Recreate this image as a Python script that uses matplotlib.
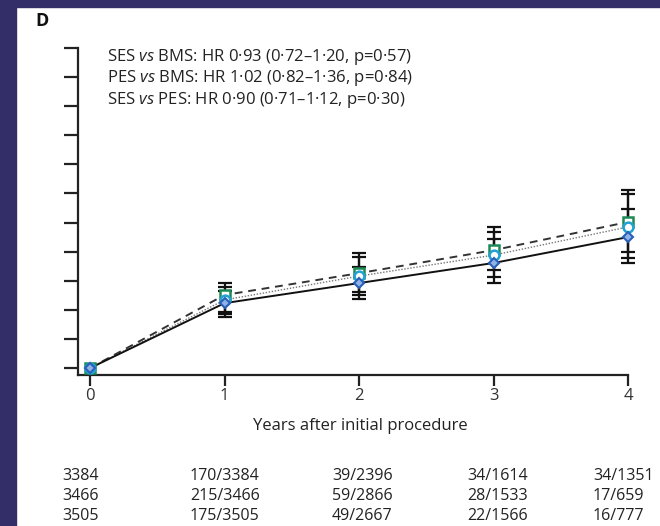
import numpy as np
import matplotlib
matplotlib.use('Agg')
from matplotlib import pyplot as plt
from matplotlib.patches import Rectangle

plt.rcParams['font.family'] = ['Open Sans', 'DejaVu Sans']
plt.rcParams['mathtext.fontset'] = 'custom'
plt.rcParams['mathtext.rm'] = 'Open Sans'
plt.rcParams['mathtext.it'] = 'Open Sans:italic'

# cumulative event rate by year
years = [0, 1, 2, 3, 4]
ses = [0, 2.23, 2.92, 3.61, 4.50]
ses_lo = [0, 1.75, 2.37, 2.92, 3.61]
ses_hi = [0, 2.65, 3.47, 4.43, 5.46]
bms = [0, 2.34, 3.16, 3.88, 4.85]
bms_lo = [0, 1.86, 2.51, 3.13, 3.78]
bms_hi = [0, 2.78, 3.81, 4.67, 5.98]
pes = [0, 2.51, 3.26, 4.05, 5.02]
pes_lo = [0, 1.92, 2.61, 3.37, 3.99]
pes_hi = [0, 2.92, 3.95, 4.85, 6.12]

hr_lines = [
    r'SES $\mathit{vs}$ BMS: HR 0·93 (0·72–1·20, p=0·57)',
    r'PES $\mathit{vs}$ BMS: HR 1·02 (0·82–1·36, p=0·84)',
    r'SES $\mathit{vs}$ PES: HR 0·90 (0·71–1·12, p=0·30)',
]

risk_rows = [
    ['3384', '170/3384', '39/2396', '34/1614', '34/1351'],
    ['3466', '215/3466', '59/2866', '28/1533', '17/659'],
    ['3505', '175/3505', '49/2667', '22/1566', '16/777'],
]

W, H = 660, 526
fig = plt.figure(figsize=(W / 100, H / 100), dpi=100)
fig.patch.set_facecolor('white')

# dark frame on the left and top
navy = '#332e68'
fig.patches.append(Rectangle((0, 0), 16 / W, 1, transform=fig.transFigure, color=navy, zorder=0))
fig.patches.append(Rectangle((0, 1 - 7 / H), 1, 7 / H, transform=fig.transFigure, color=navy, zorder=0))

ax = fig.add_axes([78 / W, 1 - 375 / H, (628 - 78) / W, (375 - 48) / H])
ax.set_xlim(-0.09, 4.0)
ax.set_ylim(-0.24, 11)
for s in ['top', 'right']:
    ax.spines[s].set_visible(False)
for s in ['left', 'bottom']:
    ax.spines[s].set_linewidth(1.6)
    ax.spines[s].set_color('#222222')

ax.set_xticks(years)
ax.set_yticks(np.arange(0, 12))
ax.set_yticklabels([])
ax.tick_params(axis='y', length=10, width=1.6, color='#222222')
ax.tick_params(axis='x', length=8, width=1.6, color='#222222', labelsize=12,
               labelcolor='#333333', pad=1)


def errs(v, lo, hi):
    v, lo, hi = np.array(v), np.array(lo), np.array(hi)
    return [v - lo, hi - v]


x = np.array(years)
for vals, lo, hi in [(pes, pes_lo, pes_hi), (bms, bms_lo, bms_hi), (ses, ses_lo, ses_hi)]:
    ax.errorbar(x[1:], np.array(vals)[1:], yerr=[e[1:] for e in errs(vals, lo, hi)],
                fmt='none', ecolor='#111111', elinewidth=1.6, capsize=5, capthick=1.6,
                zorder=3, clip_on=False)

ax.plot(years, pes, color='#333333', lw=1.4, ls=(0, (4, 3)), zorder=4)
ax.plot(years, bms, color='#777777', lw=1.0, ls=(0, (1, 1.2)), zorder=4)
ax.plot(years, ses, color='#111111', lw=1.4, ls='-', zorder=4)

ax.plot(years, pes, ls='none', marker='s', ms=6.5, mfc='white', mec='#1b8a55', mew=1.8,
        zorder=5, clip_on=False)
ax.plot(years, bms, ls='none', marker='o', ms=7, mfc='white', mec='#22a2d4', mew=1.8,
        zorder=6, clip_on=False)
ax.plot(years, ses, ls='none', marker='D', ms=5, mfc='#8fb3e6', mec='#2a5fb8', mew=1.5,
        zorder=7, clip_on=False)

# panel letter
fig.text(35 / W, 1 - 21 / H, 'D', fontsize=13, fontweight='bold', color='#111111',
         ha='left', va='center')

# hazard ratio text
for i, line in enumerate(hr_lines):
    fig.text(107 / W, 1 - (57 + 21.5 * i) / H, line, fontsize=12, color='#222222',
             ha='left', va='center')

fig.text(360 / W, 1 - 426 / H, 'Years after initial procedure', fontsize=12,
         color='#222222', ha='center', va='center')

# numbers at risk
col_x = [62, 190, 332, 467, 593]
row_y = [476, 496, 516]
for r, row in enumerate(risk_rows):
    for c, txt in enumerate(row):
        fig.text(col_x[c] / W, 1 - row_y[r] / H, txt, fontsize=11.5, color='#222222',
                 ha='left', va='center')

fig.savefig('out.png', dpi=100)
